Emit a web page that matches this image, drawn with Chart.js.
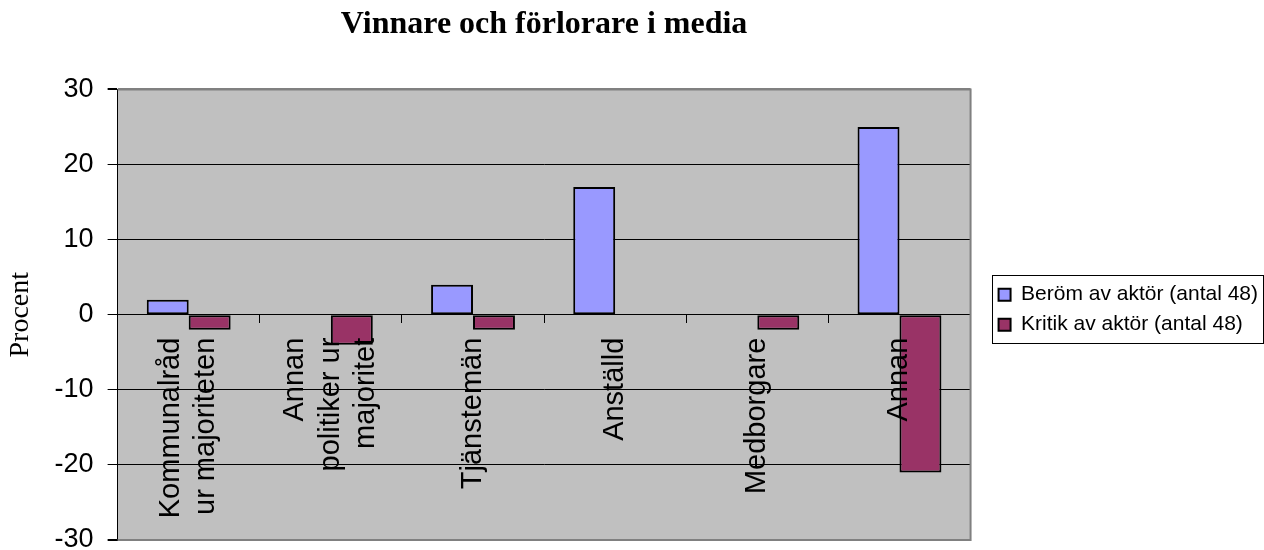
<!DOCTYPE html>
<html>
<head>
<meta charset="utf-8">
<script src="https://cdn.jsdelivr.net/npm/chart.js@4/dist/chart.umd.min.js"></script>
<style>
  body{margin:0;background:#fff;}
  #wrap{width:1264px;height:550px;position:relative;}
</style>
</head>
<body>
<div id="wrap"><canvas id="chart"></canvas></div>
<script>
// ---- data ----
const kategorier=[['Kommunalråd','ur majoriteten'],['Annan','politiker ur','majoritet'],['Tjänstemän'],['Anställd'],['Medborgare'],['Annan']];
const berom=[2,0,4,17,0,25];
const kritik=[-2,-4,-2,0,-2,-21];
const yMin=-30, yMax=30, yStep=10;

const SANS='"Liberation Sans", Arial, sans-serif';
const SERIF='"Liberation Serif", "Times New Roman", serif';

// grå ram + bakgrund för ritytan
const plotBg={
  id:'plotBg',
  beforeDraw(c){
    const {ctx,chartArea:a}=c;
    ctx.save();
    ctx.fillStyle='#C0C0C0';
    ctx.fillRect(a.left,a.top,a.right-a.left,a.bottom-a.top);
    ctx.restore();
  },
  beforeDatasetsDraw(c){
    const {ctx,chartArea:a}=c;
    ctx.save();
    ctx.strokeStyle='#808080';ctx.lineWidth=2;
    ctx.beginPath();
    ctx.moveTo(a.left,a.top);ctx.lineTo(a.right,a.top);ctx.lineTo(a.right,a.bottom);ctx.lineTo(a.left,a.bottom);
    ctx.stroke();
    ctx.restore();
  }
};

// kategorietiketter, roterade, inne i ritytan under nollinjen
const catLabels={
  id:'catLabels',
  afterDatasetsDraw(c){
    const {ctx}=c;
    const xs=c.scales.x, ys=c.scales.y;
    const y0=ys.getPixelForValue(0)+23;
    ctx.save();
    ctx.fillStyle='#000';
    ctx.font='29px '+SANS;
    ctx.textAlign='right';ctx.textBaseline='middle';
    c.data.labels.forEach((lab,i)=>{
      const lines=Array.isArray(lab)?lab:[lab];
      ctx.save();
      ctx.translate(xs.getPixelForValue(i),y0);
      ctx.rotate(-Math.PI/2);
      lines.forEach((s,j)=>ctx.fillText(s,0,(j-(lines.length-1)/2)*35.5));
      ctx.restore();
    });
    ctx.restore();
  }
};

// flytta förklaringen lite och rita ram runt den
const legendBox={
  id:'legendBox',
  afterLayout(c){
    const lg=c.legend;
    lg.left+=19;lg.right+=19;lg.top-=5;lg.bottom-=5;
  },
  afterDraw(c){
    const hb=c.legend.legendHitBoxes;
    if(!hb||!hb.length)return;
    const l=Math.min(...hb.map(h=>h.left))-7;
    const t=Math.min(...hb.map(h=>h.top))-9;
    const r=Math.max(...hb.map(h=>h.left+h.width))+5;
    const b=Math.max(...hb.map(h=>h.top+h.height))+8;
    const ctx=c.ctx;
    ctx.save();
    ctx.strokeStyle='#000';ctx.lineWidth=1;
    ctx.strokeRect(Math.round(l)+0.5,Math.round(t)+0.5,Math.round(r-l),Math.round(b-t));
    ctx.restore();
  }
};

new Chart(document.getElementById('chart').getContext('2d'),{
  type:'bar',
  data:{labels:kategorier,datasets:[
    {label:'Beröm av aktör (antal 48)',data:berom,backgroundColor:'#9999FF',borderColor:'#000',borderWidth:2,borderSkipped:false},
    {label:'Kritik av aktör (antal 48)',data:kritik,backgroundColor:'#993366',borderColor:'#000',borderWidth:2,borderSkipped:false}
  ]},
  options:{responsive:true,maintainAspectRatio:false,animation:false,
    datasets:{bar:{barPercentage:1,categoryPercentage:0.59}},
    layout:{padding:{left:0,right:15,top:0,bottom:10}},
    plugins:{
      title:{display:true,text:'Vinnare och förlorare i media',fullSize:false,color:'#000',
        font:{family:SERIF,size:32,weight:'bold'},padding:{top:6,bottom:45}},
      legend:{position:'right',fullSize:false,
        labels:{color:'#000',font:{family:SANS,size:21},boxWidth:12,boxHeight:12,padding:9}},
      tooltip:{enabled:false}
    },
    scales:{
      x:{axis:'x',position:{y:0},offset:true,
        ticks:{display:false},
        grid:{offset:true,drawOnChartArea:false,drawTicks:true,tickLength:8,color:'#000'},
        border:{display:true,color:'#000',width:1}},
      y:{min:yMin,max:yMax,
        afterFit(s){s.paddingTop=0;s.paddingBottom=0;},
        ticks:{stepSize:yStep,color:'#000',font:{family:SANS,size:27},padding:14},
        grid:{color:c=>(c.tick&&(c.tick.value===yMin||c.tick.value===yMax))?'#808080':'#000',
          lineWidth:c=>(c.tick&&(c.tick.value===yMin||c.tick.value===yMax))?2:1,
          tickColor:'#000',tickLength:10},
        border:{display:true,color:'#000',width:1},
        title:{display:true,text:'Procent',color:'#000',font:{family:SERIF,size:28},padding:{top:4,bottom:3}}}
    }
  },
  plugins:[plotBg,catLabels,legendBox]
});
</script>
</body>
</html>
